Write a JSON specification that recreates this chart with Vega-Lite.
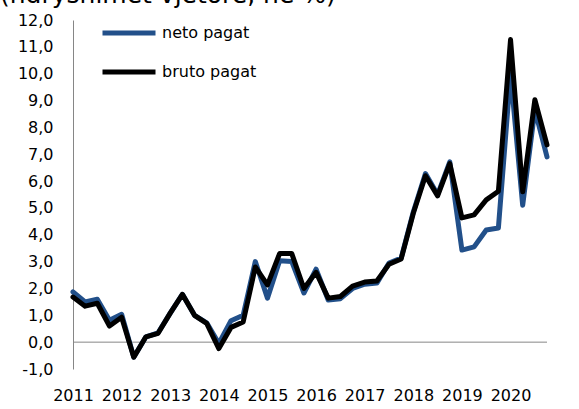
{
  "$schema": "https://vega.github.io/schema/vega-lite/v6.json",
  "autosize": {"type": "none"},
  "width": 474,
  "height": 349,
  "padding": {"left": 73, "top": 20, "right": 32, "bottom": 40},
  "background": "white",
  "config": {"view": {"stroke": null}, "font": "DejaVu Sans",
    "axisY": {"labelOverlap": false, "labelBound": false, "labelFlush": false, "grid": false, "ticks": false, "domainColor": "#868686", "labelFontSize": 16, "labelColor": "black", "labelPadding": 20}},
  "title": {"text": "(ndryshimet vjetore, në %)", "anchor": "start", "frame": "group", "fontSize": 25, "fontWeight": "normal", "color": "black", "dx": -73, "dy": 37, "offset": 13, "baseline": "alphabetic"},
  "data": {"values": [
    {"q": "2011Q1", "neto": 1.87, "bruto": 1.68},
    {"q": "2011Q2", "neto": 1.50, "bruto": 1.34},
    {"q": "2011Q3", "neto": 1.60, "bruto": 1.45},
    {"q": "2011Q4", "neto": 0.82, "bruto": 0.60},
    {"q": "2012Q1", "neto": 1.04, "bruto": 0.93},
    {"q": "2012Q2", "neto": -0.56, "bruto": -0.56},
    {"q": "2012Q3", "neto": 0.20, "bruto": 0.20},
    {"q": "2012Q4", "neto": 0.35, "bruto": 0.33},
    {"q": "2013Q1", "neto": 1.08, "bruto": 1.08},
    {"q": "2013Q2", "neto": 1.78, "bruto": 1.78},
    {"q": "2013Q3", "neto": 1.00, "bruto": 1.00},
    {"q": "2013Q4", "neto": 0.72, "bruto": 0.70},
    {"q": "2014Q1", "neto": -0.05, "bruto": -0.24},
    {"q": "2014Q2", "neto": 0.80, "bruto": 0.55},
    {"q": "2014Q3", "neto": 1.00, "bruto": 0.75},
    {"q": "2014Q4", "neto": 3.00, "bruto": 2.80},
    {"q": "2015Q1", "neto": 1.64, "bruto": 2.13},
    {"q": "2015Q2", "neto": 3.03, "bruto": 3.30},
    {"q": "2015Q3", "neto": 3.00, "bruto": 3.30},
    {"q": "2015Q4", "neto": 1.83, "bruto": 2.00},
    {"q": "2016Q1", "neto": 2.72, "bruto": 2.60},
    {"q": "2016Q2", "neto": 1.57, "bruto": 1.64},
    {"q": "2016Q3", "neto": 1.62, "bruto": 1.70},
    {"q": "2016Q4", "neto": 2.00, "bruto": 2.09},
    {"q": "2017Q1", "neto": 2.16, "bruto": 2.24},
    {"q": "2017Q2", "neto": 2.20, "bruto": 2.28},
    {"q": "2017Q3", "neto": 2.95, "bruto": 2.90},
    {"q": "2017Q4", "neto": 3.13, "bruto": 3.10},
    {"q": "2018Q1", "neto": 4.85, "bruto": 4.80},
    {"q": "2018Q2", "neto": 6.28, "bruto": 6.20},
    {"q": "2018Q3", "neto": 5.50, "bruto": 5.45},
    {"q": "2018Q4", "neto": 6.72, "bruto": 6.65},
    {"q": "2019Q1", "neto": 3.43, "bruto": 4.63},
    {"q": "2019Q2", "neto": 3.55, "bruto": 4.74},
    {"q": "2019Q3", "neto": 4.18, "bruto": 5.30},
    {"q": "2019Q4", "neto": 4.25, "bruto": 5.62},
    {"q": "2020Q1", "neto": 10.0, "bruto": 11.27},
    {"q": "2020Q2", "neto": 5.10, "bruto": 5.60},
    {"q": "2020Q3", "neto": 8.66, "bruto": 9.03},
    {"q": "2020Q4", "neto": 6.90, "bruto": 7.35}
  ]},
  "transform": [{"fold": ["neto", "bruto"], "as": ["s", "v"]}],
  "layer": [
    {
      "data": {"values": [{"v": 0}]},
      "transform": [],
      "mark": {"type": "rule", "color": "#868686", "strokeWidth": 1},
      "encoding": {"y": {"field": "v", "type": "quantitative", "scale": {"domain": [-1, 12], "nice": false, "zero": false},
        "axis": {"title": null, "values": [-1, 0, 1, 2, 3, 4, 5, 6, 7, 8, 9, 10, 11, 12],
          "labelExpr": "(datum.value < 0 ? '-' : '') + replace(format(abs(datum.value), '.1f'), '.', ',')"}}}
    },
    {
      "transform": [{"filter": "datum.s === 'neto'"}],
      "mark": {"type": "line", "strokeWidth": 5, "strokeJoin": "round", "strokeCap": "round"},
      "encoding": {
        "x": {"field": "q", "type": "ordinal", "sort": null, "scale": {"type": "point", "padding": 0},
          "axis": {"title": null, "labelAngle": 0, "ticks": false, "domain": false, "labelOverlap": false,
            "labelExpr": "indexof(datum.value, 'Q1') >= 0 ? substring(datum.value, 0, 4) : ''",
            "labelFontSize": 16, "labelColor": "black", "labelPadding": 18}},
        "y": {"field": "v", "type": "quantitative", "scale": {"domain": [-1, 12], "nice": false, "zero": false},
          "axis": {"title": null, "values": [-1, 0, 1, 2, 3, 4, 5, 6, 7, 8, 9, 10, 11, 12],
            "labelExpr": "(datum.value < 0 ? '-' : '') + replace(format(abs(datum.value), '.1f'), '.', ',')"}},
        "color": {"field": "s", "type": "nominal", "scale": {"domain": ["neto", "bruto"], "range": ["#22508a", "#000000"]},
          "legend": {"title": null, "orient": "none", "legendX": 27, "legendY": -16, "symbolType": "stroke", "symbolSize": 2809,
            "symbolStrokeWidth": 5, "labelFontSize": 16, "labelColor": "black", "labelOffset": 4, "padding": 0, "rowPadding": -24,
            "labelExpr": "datum.label + ' pagat'"}}
      }
    },
    {
      "transform": [{"filter": "datum.s === 'bruto'"}],
      "mark": {"type": "line", "strokeWidth": 5, "strokeJoin": "round", "strokeCap": "round"},
      "encoding": {
        "x": {"field": "q", "type": "ordinal", "sort": null},
        "y": {"field": "v", "type": "quantitative", "axis": {"title": null, "values": [-1, 0, 1, 2, 3, 4, 5, 6, 7, 8, 9, 10, 11, 12],
            "labelExpr": "(datum.value < 0 ? '-' : '') + replace(format(abs(datum.value), '.1f'), '.', ',')"}},
        "color": {"field": "s", "type": "nominal"}
      }
    }
  ]
}
